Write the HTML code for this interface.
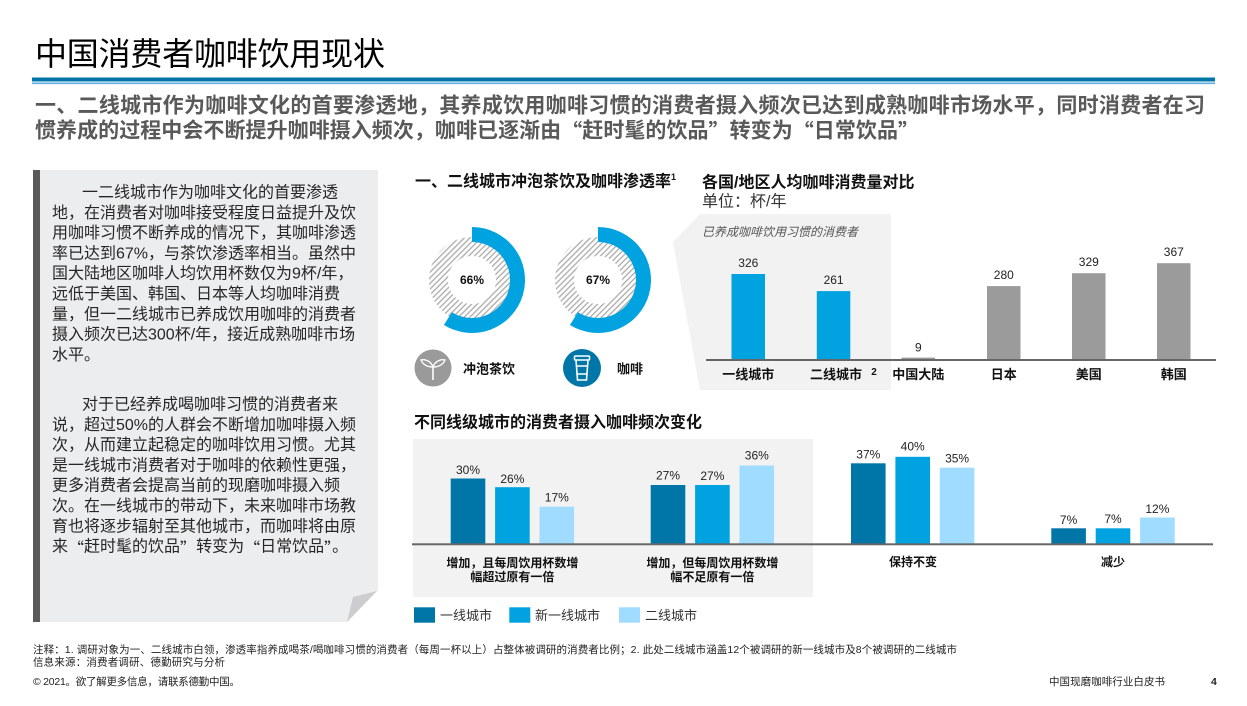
<!DOCTYPE html>
<html><head><meta charset="utf-8">
<style>
html,body{margin:0;padding:0;background:#fff;}
body{width:1247px;height:706px;position:relative;overflow:hidden;font-family:"Liberation Sans","Noto Sans CJK SC",sans-serif;}
svg text{font-family:"Liberation Sans","Noto Sans CJK SC",sans-serif;}
.q{font-family:"Noto Sans CJK SC",sans-serif;}
</style></head>
<body>
<svg width="1247" height="706" viewBox="0 0 1247 706" xmlns="http://www.w3.org/2000/svg" style="position:absolute;left:0;top:0">
<defs>
<pattern id="hatch" width="4" height="4" patternUnits="userSpaceOnUse" patternTransform="rotate(45)">
<rect width="4" height="4" fill="#ffffff"/>
<rect width="1.5" height="4" fill="#b5b5b5"/>
</pattern>
</defs>

<!-- Title -->
<text x="35" y="54" font-size="32" fill="#000" dominant-baseline="central" textLength="350" lengthAdjust="spacing">中国消费者咖啡饮用现状</text>
<rect x="32" y="77.5" width="1183" height="4" fill="#0076A8"/>
<rect x="32" y="82.5" width="1183" height="1.6" fill="#5FAEE0"/>

<!-- Subtitle -->
<text x="35" y="106" font-size="21" font-weight="bold" fill="#595959" dominant-baseline="central" textLength="1170" lengthAdjust="spacing">一、二线城市作为咖啡文化的首要渗透地，其养成饮用咖啡习惯的消费者摄入频次已达到成熟咖啡市场水平，同时消费者在习</text>
<text x="35" y="131" font-size="21" font-weight="bold" fill="#595959" dominant-baseline="central" textLength="884" lengthAdjust="spacing">惯养成的过程中会不断提升咖啡摄入频次，咖啡已逐渐由<tspan class="q">“</tspan>赶时髦的饮品<tspan class="q">”</tspan>转变为<tspan class="q">“</tspan>日常饮品<tspan class="q">”</tspan></text>

<!-- Left text box -->
<polygon points="33,170 378,170 378,590 347,622 33,622" fill="#ECEDEF"/>
<polygon points="347,622 353,597 377,591" fill="#CDCDCF"/>
<rect x="33" y="170" width="7" height="452" fill="#5A5A5A"/>
<g font-size="16" fill="#262626" dominant-baseline="central">
<text x="82" y="193">一二线城市作为咖啡文化的首要渗透</text>
<text x="52" y="213.3">地，在消费者对咖啡接受程度日益提升及饮</text>
<text x="52" y="233.6">用咖啡习惯不断养成的情况下，其咖啡渗透</text>
<text x="52" y="253.9">率已达到67%，与茶饮渗透率相当。虽然中</text>
<text x="52" y="274.2">国大陆地区咖啡人均饮用杯数仅为9杯/年，</text>
<text x="52" y="294.5">远低于美国、韩国、日本等人均咖啡消费</text>
<text x="52" y="314.8">量，但一二线城市已养成饮用咖啡的消费者</text>
<text x="52" y="335.1">摄入频次已达300杯/年，接近成熟咖啡市场</text>
<text x="52" y="355.4">水平。</text>
<text x="82" y="405">对于已经养成喝咖啡习惯的消费者来</text>
<text x="52" y="425.3">说，超过50%的人群会不断增加咖啡摄入频</text>
<text x="52" y="445.6">次，从而建立起稳定的咖啡饮用习惯。尤其</text>
<text x="52" y="465.9">是一线城市消费者对于咖啡的依赖性更强，</text>
<text x="52" y="486.2">更多消费者会提高当前的现磨咖啡摄入频</text>
<text x="52" y="506.5">次。在一线城市的带动下，未来咖啡市场教</text>
<text x="52" y="526.8">育也将逐步辐射至其他城市，而咖啡将由原</text>
<text x="52" y="547.1">来<tspan class="q">“</tspan>赶时髦的饮品<tspan class="q">”</tspan>转变为<tspan class="q">“</tspan>日常饮品<tspan class="q">”</tspan>。</text>
</g>

<!-- Donut section -->
<text x="415" y="182" font-size="16" font-weight="bold" fill="#111" dominant-baseline="central">一、二线城市冲泡茶饮及咖啡渗透率</text>
<text x="671" y="177" font-size="9" font-weight="bold" fill="#111" dominant-baseline="central">1</text>

<polygon points="700,214 891,214 891,390 700,390 673,242" fill="#F2F2F2"/>

<g transform="translate(472,280)">
<circle r="33.5" fill="none" stroke="url(#hatch)" stroke-width="19"/>
<path d="M0,-53 A53,53 0 1 1 -28.08,44.94 L -20.14,32.22 A38,38 0 1 0 0,-38 Z" fill="#00A3E0"/>
<text x="0" y="0" font-size="12" font-weight="bold" fill="#111" text-anchor="middle" dominant-baseline="central">66%</text>
</g>
<g transform="translate(598,280)">
<circle r="33.5" fill="none" stroke="url(#hatch)" stroke-width="19"/>
<path d="M0,-53 A53,53 0 1 1 -28.08,44.94 L -20.14,32.22 A38,38 0 1 0 0,-38 Z" fill="#00A3E0"/>
<text x="0" y="0" font-size="12" font-weight="bold" fill="#111" text-anchor="middle" dominant-baseline="central">67%</text>
</g>

<!-- icons -->
<g transform="translate(433,368)">
<circle r="18.5" fill="#9A9A9A"/>
<path d="M0,12 L0,-1" stroke="#fff" stroke-width="1.6" fill="none"/>
<path d="M0,-1 C-2,-7 -8,-9 -12,-8 C-10,-3 -5,-1 0,-1 Z" stroke="#fff" stroke-width="1.4" fill="none"/>
<path d="M0,-1 C2,-7 8,-9 12,-8 C10,-3 5,-1 0,-1 Z" stroke="#fff" stroke-width="1.4" fill="none"/>
</g>
<text x="463" y="369" font-size="13" font-weight="bold" fill="#111" dominant-baseline="central">冲泡茶饮</text>
<g transform="translate(582,368)">
<circle r="19" fill="#0076A8"/>
<rect x="-7.5" y="-12" width="15" height="4" rx="1" fill="none" stroke="#fff" stroke-width="1.6"/>
<path d="M-6,-8 L-4.5,12 L4.5,12 L6,-8" fill="none" stroke="#fff" stroke-width="1.6"/>
<path d="M-5.6,-2 L5.6,-2 M-5,6 L5,6" stroke="#fff" stroke-width="1.6"/>
</g>
<text x="617" y="369" font-size="13" font-weight="bold" fill="#111" dominant-baseline="central">咖啡</text>

<!-- Right bar chart -->
<text x="702" y="183" font-size="16" font-weight="bold" fill="#111" dominant-baseline="central">各国/地区人均咖啡消费量对比</text>
<text x="702" y="202" font-size="16" fill="#333" dominant-baseline="central">单位：杯/年</text>
<text x="702" y="232" font-size="12" font-style="italic" fill="#555" dominant-baseline="central">已养成咖啡饮用习惯的消费者</text>

<rect x="731.5" y="274" width="33.5" height="86" fill="#00A3E0"/>
<rect x="816.8" y="291.1" width="33.5" height="68.9" fill="#00A3E0"/>
<rect x="901.5" y="357.6" width="33.5" height="2.4" fill="#9B9B9B"/>
<rect x="987" y="286.1" width="33.5" height="73.9" fill="#9B9B9B"/>
<rect x="1072" y="273.2" width="33.5" height="86.8" fill="#9B9B9B"/>
<rect x="1157" y="263.2" width="33.5" height="96.8" fill="#9B9B9B"/>
<rect x="706" y="359" width="510" height="2" fill="#666"/>

<g font-size="12" fill="#222" text-anchor="middle" dominant-baseline="central">
<text x="748.3" y="263">326</text>
<text x="833.6" y="280">261</text>
<text x="918.3" y="347.5">9</text>
<text x="1003.8" y="275">280</text>
<text x="1088.8" y="262">329</text>
<text x="1173.8" y="252">367</text>
</g>
<g font-size="13" font-weight="bold" fill="#111" text-anchor="middle" dominant-baseline="central">
<text x="748.3" y="374.5">一线城市</text>
<text x="836" y="374.5">二线城市</text>
<text x="918.3" y="374.5">中国大陆</text>
<text x="1003.8" y="374.5">日本</text>
<text x="1088.8" y="374.5">美国</text>
<text x="1173.8" y="374.5">韩国</text>
</g>
<text x="874" y="372.5" font-size="10" font-weight="bold" fill="#111" text-anchor="middle" dominant-baseline="central">2</text>

<!-- Bottom chart -->
<text x="414" y="423" font-size="16" font-weight="bold" fill="#111" dominant-baseline="central">不同线级城市的消费者摄入咖啡频次变化</text>
<rect x="413" y="439" width="400" height="158" fill="#F2F2F2"/>

<rect x="450.7" y="478.5" width="34.6" height="65" fill="#0076A8"/>
<rect x="495.1" y="487.2" width="34.6" height="56.3" fill="#00A3E0"/>
<rect x="539.5" y="506.7" width="34.6" height="36.8" fill="#A0DCFF"/>
<rect x="650.7" y="485" width="34.6" height="58.5" fill="#0076A8"/>
<rect x="695.1" y="485" width="34.6" height="58.5" fill="#00A3E0"/>
<rect x="739.5" y="465.5" width="34.6" height="78" fill="#A0DCFF"/>
<rect x="851" y="463.3" width="34.6" height="80.2" fill="#0076A8"/>
<rect x="895.4" y="456.8" width="34.6" height="86.7" fill="#00A3E0"/>
<rect x="939.8" y="467.7" width="34.6" height="75.8" fill="#A0DCFF"/>
<rect x="1051.3" y="528.3" width="34.6" height="15.2" fill="#0076A8"/>
<rect x="1095.7" y="528.3" width="34.6" height="15.2" fill="#00A3E0"/>
<rect x="1140.1" y="517.5" width="34.6" height="26" fill="#A0DCFF"/>

<rect x="412" y="543.3" width="801" height="2" fill="#666"/>

<g font-size="12" fill="#222" text-anchor="middle" dominant-baseline="central">
<text x="468" y="470">30%</text>
<text x="512.4" y="479">26%</text>
<text x="556.8" y="497.5">17%</text>
<text x="668" y="475.5">27%</text>
<text x="712.4" y="476">27%</text>
<text x="756.8" y="455.5">36%</text>
<text x="868.3" y="454.5">37%</text>
<text x="912.7" y="446.5">40%</text>
<text x="957.1" y="458.5">35%</text>
<text x="1068.6" y="520">7%</text>
<text x="1113" y="519">7%</text>
<text x="1157.4" y="509">12%</text>
</g>
<g font-size="12" font-weight="bold" fill="#111" text-anchor="middle" dominant-baseline="central">
<text x="512.4" y="563">增加，且每周饮用杯数增</text>
<text x="512.4" y="577">幅超过原有一倍</text>
<text x="712.4" y="563">增加，但每周饮用杯数增</text>
<text x="712.4" y="577">幅不足原有一倍</text>
<text x="913" y="562">保持不变</text>
<text x="1113" y="562">减少</text>
</g>

<rect x="414" y="607.3" width="21" height="15.4" fill="#0076A8"/>
<text x="440" y="615.5" font-size="13" fill="#333" dominant-baseline="central">一线城市</text>
<rect x="509.3" y="607.3" width="21" height="15.4" fill="#00A3E0"/>
<text x="535" y="615.5" font-size="13" fill="#333" dominant-baseline="central">新一线城市</text>
<rect x="619" y="607.3" width="21" height="15.4" fill="#A0DCFF"/>
<text x="645" y="615.5" font-size="13" fill="#333" dominant-baseline="central">二线城市</text>

<!-- footer -->
<text x="33" y="650" font-size="10.5" fill="#222" dominant-baseline="central" textLength="924" lengthAdjust="spacing">注释：1. 调研对象为一、二线城市白领，渗透率指养成喝茶/喝咖啡习惯的消费者（每周一杯以上）占整体被调研的消费者比例；2. 此处二线城市涵盖12个被调研的新一线城市及8个被调研的二线城市</text>
<text x="33" y="662.5" font-size="10.5" fill="#222" dominant-baseline="central" textLength="192" lengthAdjust="spacing">信息来源：消费者调研、德勤研究与分析</text>
<text x="33" y="682" font-size="10.5" fill="#222" dominant-baseline="central" textLength="207" lengthAdjust="spacing">© 2021。欲了解更多信息，请联系德勤中国。</text>
<text x="1049" y="682" font-size="10.5" fill="#222" dominant-baseline="central" textLength="116" lengthAdjust="spacing">中国现磨咖啡行业白皮书</text>
<text x="1211" y="682" font-size="10.5" font-weight="bold" fill="#222" dominant-baseline="central">4</text>
</svg>
</body></html>
